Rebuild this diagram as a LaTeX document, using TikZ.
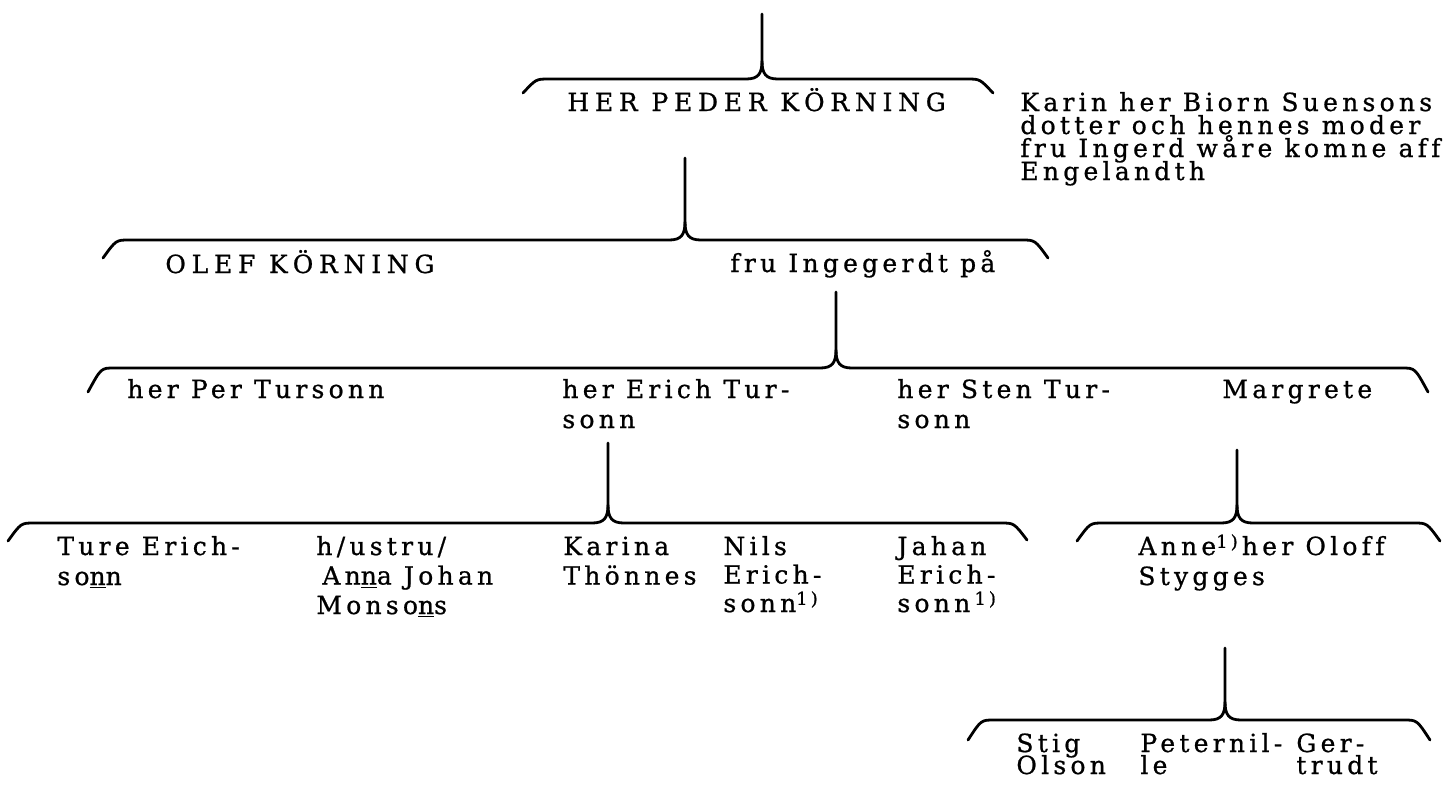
\documentclass[tikz,border=0pt]{standalone}
\usepackage{fontspec}
\setmainfont{DejaVu Serif}
\newfontfamily\twfont[LetterSpace=17,FakeBold=0.8,Ligatures=NoCommon]{DejaVu Serif}
\newfontfamily\capfont[LetterSpace=23,FakeBold=0.8,Ligatures=NoCommon]{DejaVu Serif}
\newcommand\TwoL[3]{\vtop{\baselineskip=#1\lineskiplimit=-100pt\hbox{#2}\hbox{#3}}}
\newcommand\ThreeL[4]{\vtop{\baselineskip=#1\lineskiplimit=-100pt\hbox{#2}\hbox{#3}\hbox{#4}}}
\newcommand\FourL[5]{\vtop{\baselineskip=#1\lineskiplimit=-100pt\hbox{#2}\hbox{#3}\hbox{#4}\hbox{#5}}}
\newcommand\noteone{\raisebox{0.55ex}{\fontsize{9}{9}\selectfont 1)}}
% #1 cx, #2 top y, #3 horizontal y, #4 left tip x, #5 left tip y, #6 right tip x, #7 right tip y
\newcommand\fambrace[7]{%
  \draw[brace] (#1,#2) -- (#1,#3-18) .. controls (#1,#3-5) and (#1-4,#3) .. (#1-16,#3)
     -- (#4+26,#3) .. controls (#4+13,#3) .. (#4,#5);
  \draw[brace] (#1,#3-18) .. controls (#1,#3-5) and (#1+4,#3) .. (#1+16,#3)
     -- (#6-26,#3) .. controls (#6-13,#3) .. (#6,#7);}
\tikzset{
  person/.style={font=\twfont\fontsize{12.5}{14}\selectfont, inner sep=0pt, anchor=base west},
  capperson/.style={person, font=\capfont\fontsize{12.5}{14}\selectfont},
  brace/.style={line width=1.4pt, line cap=round, line join=round}
}
\begin{document}
\begin{tikzpicture}[x=0.5pt,y=-0.5pt]
\fill[white] (0,0) rectangle (1444,788);
\useasboundingbox (0,0) rectangle (1444,788);
% braces
\fambrace{762}{14}{79}{523}{93}{993}{93}
\fambrace{685}{158}{240}{103}{258}{1048}{258}
\fambrace{836}{292}{368}{88}{392}{1428}{392}
\fambrace{608}{443}{523}{8}{541}{1027}{540}
\fambrace{1237}{450}{523}{1077}{541}{1440}{541}
\fambrace{1225}{648}{720}{968}{740}{1430}{740}
% generation 1
\node[capperson] (peder) at (567,111) {HER PEDER KÖRNING};
\node[person] (note) at (1020,111) {\FourL{11.5pt}{Karin her Biorn Suensons}{dotter och hennes moder}{fru Ingerd wåre komne aff}{Engelandth}};
% generation 2
\node[capperson] (olef) at (165,273) {OLEF KÖRNING};
\node[person] (ingegerdt) at (730,272) {fru Ingegerdt på};
% generation 3
\node[person] (per) at (127,398) {her Per Tursonn};
\node[person] (erich) at (562,398) {\TwoL{15pt}{her Erich Tur-}{sonn}};
\node[person] (sten) at (897,398) {\TwoL{15pt}{her Sten Tur-}{sonn}};
\node[person] (margrete) at (1222,398) {Margrete};
% generation 4
\node[person] (ture) at (57,555) {\TwoL{15pt}{Ture Erich-}{so\underline{n}n}};
\node[person] (hustru) at (316,555) {\ThreeL{14.75pt}{h/ustru/}{\kern3pt An\underline{n}a Johan}{Monso\underline{n}s}};
\node[person] (karina) at (563,555) {\TwoL{14.75pt}{Karina}{Thönnes}};
\node[person] (nils) at (723,555) {\ThreeL{14.25pt}{Nils}{Erich-}{sonn\noteone}};
\node[person] (jahan) at (897,555) {\ThreeL{14.25pt}{Jahan}{Erich-}{sonn\,\noteone}};
\node[person] (anne) at (1138,555) {\TwoL{15pt}{Anne\noteone\,her Oloff}{Stygges}};
% generation 5
\node[person] (stig) at (1016,752) {\TwoL{11pt}{Stig}{Olson}};
\node[person] (peternille) at (1140,752) {\TwoL{11pt}{Peternil-}{le}};
\node[person] (gertrudt) at (1296,752) {\TwoL{11pt}{Ger-}{trudt}};
\end{tikzpicture}
\end{document}
